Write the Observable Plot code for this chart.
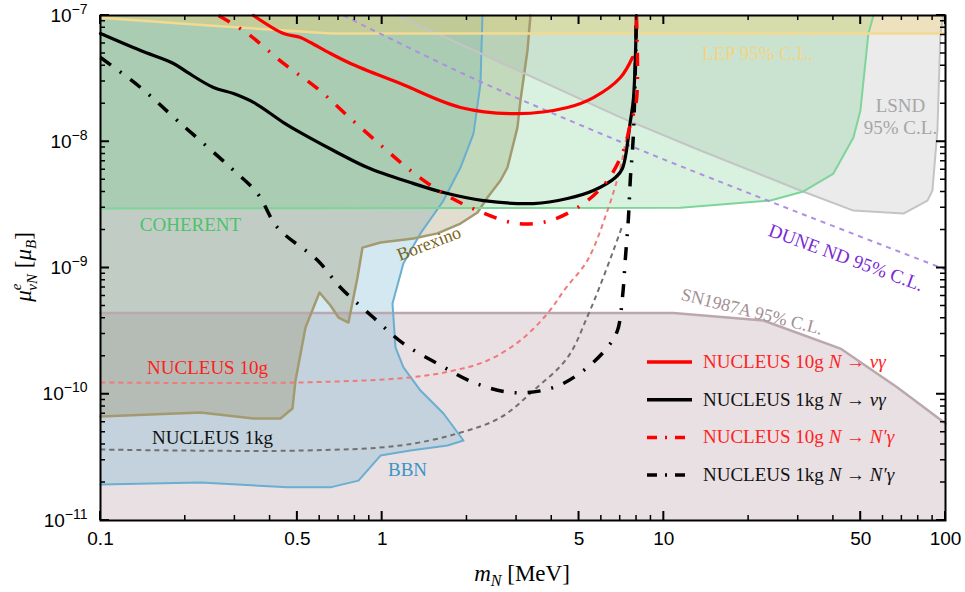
<!DOCTYPE html>
<html><head><meta charset="utf-8">
<script src="https://cdn.jsdelivr.net/npm/d3@7"></script>
<script src="https://cdn.jsdelivr.net/npm/@observablehq/plot@0.6"></script>
<style>
body{margin:0;background:#fff;}
#chart{position:relative;width:965px;height:592px;}
</style></head><body><div id="chart"></div>
<script>
// ---------- axis settings ----------
const xDomain = [0.1, 100];
const yDomain = [1e-11, 1e-7];
const xMajor = [0.1, 0.5, 1, 5, 10, 50, 100];
const xMinor = [0.2, 0.3, 0.4, 0.6, 0.7, 0.8, 0.9, 2, 3, 4, 6, 7, 8, 9, 20, 30, 40, 60, 70, 80, 90];
const yMajor = [1e-11, 1e-10, 1e-9, 1e-8, 1e-7];
const yMinor = [2e-11, 3e-11, 4e-11, 5e-11, 6e-11, 7e-11, 8e-11, 9e-11,
  2e-10, 3e-10, 4e-10, 5e-10, 6e-10, 7e-10, 8e-10, 9e-10,
  2e-9, 3e-9, 4e-9, 5e-9, 6e-9, 7e-9, 8e-9, 9e-9,
  2e-8, 3e-8, 4e-8, 5e-8, 6e-8, 7e-8, 8e-8, 9e-8];

// ---------- excluded regions: boundary [m_N (MeV), mu (mu_B)] ----------
const lepEdge = [[0.1, 9.6e-8], [0.25, 8.3e-8], [0.66, 7.2e-8], [100, 7.2e-8]];
const lepClose = [[100, 1e-7], [0.1, 1e-7]];

const lsndEdge = [[1.134, 1e-7], [7.015, 1.56e-8], [13.49, 8.52e-9], [30.54, 4.11e-9], [47.11, 2.85e-9],
  [70.9, 2.70e-9], [86.28, 3.42e-9], [89.87, 4.11e-9], [93.61, 1.23e-8], [95.92, 7.2e-8], [98.3, 1e-7]];
const lsndClose = [];

const coherentEdge = [[0.1, 2.96e-9], [11.46, 3.0e-9], [23.9, 3.42e-9], [31.3, 4.04e-9], [40.0, 5.6e-9],
  [47.11, 1.08e-8], [49.88, 1.77e-8], [53.25, 7.2e-8], [55.48, 1e-7]];
const coherentClose = [[0.1, 1e-7]];

const snEdge = [[0.1, 4.4e-10], [10.82, 4.4e-10], [22.57, 3.84e-10], [42.37, 2.3e-10], [67.51, 1.13e-10], [100, 5.87e-11]];
const snClose = [[100, 1e-11], [0.1, 1e-11]];

const bbnEdge = [[0.1, 1.93e-11], [0.2265, 2.0e-11], [0.4611, 1.83e-11], [0.6555, 1.83e-11], [0.694, 1.89e-11],
  [0.824, 2.07e-11], [0.9863, 3.27e-11], [1.26, 3.58e-11], [1.706, 3.93e-11], [1.944, 4.3e-11],
  [1.651, 7.04e-11], [1.368, 1.07e-10], [1.19, 1.63e-10], [1.115, 2.35e-10], [1.088, 5.23e-10],
  [1.19, 1.09e-9], [1.368, 1.88e-9], [1.651, 3.42e-9], [1.897, 6.25e-9], [2.11, 1.16e-8],
  [2.234, 2.89e-8], [2.27, 1e-7]];
const bbnClose = [[0.1, 1e-7]];

const borexinoEdge = [[0.1, 6.67e-11], [0.2265, 7.17e-11], [0.3493, 6.42e-11], [0.4355, 6.42e-11], [0.4803, 7.71e-11],
  [0.4922, 1.28e-10], [0.5343, 3.38e-10], [0.5989, 6.4e-10], [0.6555, 5.05e-10], [0.6998, 4.05e-10],
  [0.7593, 3.7e-10], [0.7718, 4.44e-10], [0.8172, 8.41e-10], [0.8514, 1.45e-9], [0.9863, 1.59e-9],
  [1.291, 1.71e-9], [1.572, 1.88e-9], [1.897, 2.25e-9], [2.18, 2.75e-9], [2.365, 3.62e-9],
  [2.63, 4.93e-9], [2.785, 6.25e-9], [3.022, 1.3e-8], [3.097, 2.12e-8], [3.28, 5.28e-8], [3.361, 1e-7]];
const borexinoClose = [[0.1, 1e-7]];

const duneLine = [[0.7289, 1e-7], [2.11, 3.17e-8], [7.015, 1.0e-8], [25.9, 3.13e-9], [100, 9.73e-10]];

// ---------- NUCLEUS projections ----------
const red10gDecay = [[0.3493, 1e-7], [0.4464, 7.2e-8], [0.5129, 6.7e-8], [0.5567, 6.11e-8], [0.6555, 5.0e-8],
  [0.7718, 4.17e-8], [1.161, 2.89e-8], [1.897, 1.87e-8], [3.022, 1.67e-8], [4.549, 1.87e-8],
  [5.625, 2.24e-8], [7.015, 3.23e-8], [7.736, 4.65e-8]];
const black1kgDecay = [[0.1, 7.2e-8], [0.1387, 5.28e-8], [0.1816, 4.17e-8], [0.2036, 3.54e-8], [0.2518, 2.69e-8],
  [0.2966, 2.41e-8], [0.3493, 2.05e-8], [0.4464, 1.42e-8], [0.5129, 1.18e-8], [0.6717, 8.52e-9],
  [0.8868, 6.25e-9], [1.26, 4.75e-9], [1.651, 3.96e-9], [2.289, 3.42e-9], [3.444, 3.24e-9],
  [4.549, 3.55e-9], [5.625, 4.11e-9], [6.733, 5.21e-9], [7.129, 6.14e-9], [7.611, 1.47e-8],
  [7.8, 2.2e-8], [7.993, 1e-7]];
const red10gTransition = [[0.2624, 1e-7], [0.3325, 7.2e-8], [0.4464, 4.17e-8], [0.5894, 2.64e-8], [0.7718, 1.53e-8],
  [1.0107, 9.0e-9], [1.26, 5.92e-9], [1.651, 3.89e-9], [2.18, 2.85e-9], [3.022, 2.25e-9],
  [3.958, 2.38e-9], [5.183, 3.24e-9], [6.307, 4.93e-9], [7.188, 8.52e-9], [7.611, 1.39e-8],
  [7.993, 2.12e-8], [7.993, 1e-7]];
const black1kgTransition = [[0.1, 4.65e-8], [0.1387, 2.69e-8], [0.1876, 1.47e-8], [0.2894, 6.25e-9], [0.3609, 3.89e-9],
  [0.425, 2.09e-9], [0.5894, 1.15e-9], [0.7112, 7.01e-10], [0.9313, 4.05e-10], [1.19, 2.52e-10],
  [1.572, 1.75e-10], [2.11, 1.24e-10], [2.925, 1.03e-10], [4.057, 1.13e-10], [5.183, 1.54e-10],
  [6.307, 2.35e-10], [6.845, 3.2e-10], [7.129, 5.84e-10], [7.306, 1.21e-9], [7.488, 2.51e-9],
  [7.611, 5.21e-9], [7.8, 1.16e-8], [7.993, 1e-7]];
const red10gBase = [[0.1, 1.24e-10], [0.5129, 1.24e-10], [1.26, 1.36e-10], [1.791, 1.54e-10], [2.365, 1.85e-10],
  [3.097, 2.67e-10], [3.863, 4.36e-10], [4.475, 6.88e-10], [5.355, 1.15e-9], [6.307, 2.85e-9],
  [7.015, 6.25e-9], [7.427, 1.16e-8], [7.929, 1.87e-8]];
const black1kgBase = [[0.1, 3.65e-11], [0.5129, 3.58e-11], [1.161, 3.93e-11], [1.851, 4.89e-11], [2.63, 6.54e-11],
  [3.444, 1.07e-10], [4.549, 1.95e-10], [5.355, 4.13e-10], [6.0, 7.68e-10], [6.624, 1.38e-9], [7.129, 2.17e-9]];

// ---------- region labels ----------
const regionLabels = [
  {text: "LEP 95% C.L.", x: 21.5, y: 5.09e-8, color: "#f5d47f", size: 19, rotate: 0},
  {text: "LSND\n95% C.L.", x: 69.2, y: 1.61e-8, color: "#a6a6a6", size: 19, rotate: 0},
  {text: "COHERENT", x: 0.2087, y: 2.25e-9, color: "#4cc26a", size: 19, rotate: 0},
  {text: "Borexino", x: 1.46, y: 1.59e-9, color: "#7a6420", size: 18, rotate: -21},
  {text: "DUNE ND 95% C.L.", x: 44.5, y: 1.23e-9, color: "#7b2bd4", size: 19, rotate: 20},
  {text: "SN1987A 95% C.L.", x: 20.6, y: 4.61e-10, color: "#a38f95", size: 18, rotate: 14},
  {text: "NUCLEUS 10g", x: 0.2398, y: 1.66e-10, color: "#ff2020", size: 19, rotate: 0},
  {text: "NUCLEUS 1kg", x: 0.2498, y: 4.63e-11, color: "#111111", size: 19, rotate: 0},
  {text: "BBN", x: 1.23, y: 2.58e-11, color: "#3b95c4", size: 19, rotate: 0}
];

const legendItems = [
  {name: "NUCLEUS 10g", target: "νγ", color: "#ff0000", text: "#ff2222", dash: null},
  {name: "NUCLEUS 1kg", target: "νγ", color: "#000000", text: "#111111", dash: null},
  {name: "NUCLEUS 10g", target: "N′γ", color: "#ff0000", text: "#ff2222", dash: "10,8,2,8"},
  {name: "NUCLEUS 1kg", target: "N′γ", color: "#000000", text: "#111111", dash: "10,8,2,8"}
];

// ---------- helpers ----------
const X = d => d[0], Y = d => d[1];
const poly = (edge, close, fill, op) => Plot.line(edge.concat(close), {x: X, y: Y, fill, fillOpacity: op, stroke: "none"});
const edge = (pts, stroke, w, extra = {}) => Plot.line(pts, {x: X, y: Y, stroke, strokeWidth: w, ...extra});
const smooth = {curve: "catmull-rom"};

const sans = "Liberation Sans, Arial, sans-serif";
const serif = "Liberation Serif, Times New Roman, serif";

const plot = Plot.plot({
  width: 965,
  height: 592,
  marginLeft: 100,
  marginRight: 20,
  marginTop: 15,
  marginBottom: 72,
  style: {background: "white", overflow: "visible"},
  x: {type: "log", domain: xDomain},
  y: {type: "log", domain: yDomain},
  marks: [
    // fills
    poly(snEdge, snClose, "#a3838f", 0.25),
    poly(bbnEdge, bbnClose, "#6cb2cd", 0.3),
    poly(borexinoEdge, borexinoClose, "#8a7a40", 0.25),
    poly(lsndEdge, lsndClose, "#b8b8b8", 0.28),
    poly(coherentEdge, coherentClose, "#63cb7f", 0.25),
    poly(lepEdge, lepClose, "#f2cf6b", 0.35),
    // boundaries
    edge(snEdge, "#bba8ae", 2.5),
    edge(bbnEdge, "#6aaed0", 2),
    edge(borexinoEdge, "#a39a70", 2.5),
    edge(lsndEdge, "#c4c4c4", 2),
    edge(coherentEdge, "#7fd49a", 2),
    edge(lepEdge, "#f3da92", 2.5),
    edge(duneLine, "#b08ee0", 2, {strokeDasharray: "5,5", strokeLinecap: "butt", ...smooth}),
    // labels
    Plot.text(regionLabels, {x: "x", y: "y", text: "text", fill: "color", fontSize: d => d.size, rotate: "rotate", fontFamily: serif, lineHeight: 1.2}),
    // NUCLEUS curves
    edge(red10gBase, "#f07a7a", 2, {strokeDasharray: "5,4", strokeLinecap: "butt", ...smooth}),
    edge(black1kgBase, "#707070", 2, {strokeDasharray: "5,4", strokeLinecap: "butt", ...smooth}),
    edge(black1kgTransition, "#000000", 3.5, {strokeDasharray: "13,11,2,11", strokeLinecap: "butt", ...smooth}),
    edge(red10gDecay, "#ff0000", 3.2, smooth),
    edge(black1kgDecay, "#000000", 3.2, smooth),
    edge(red10gTransition, "#ff0000", 3.5, {strokeDasharray: "13,11,2,11", strokeLinecap: "butt", ...smooth}),
    // frame & tick labels (large tick count so the log formatter keeps every label)
    Plot.frame({stroke: "black", strokeWidth: 2}),
    Plot.axisX(xMajor, {anchor: "bottom", ticks: 100, tickSize: 0, tickPadding: 11, label: null, fontSize: 19, fontFamily: sans, tickFormat: d => String(d)}),
    Plot.axisY(yMajor, {anchor: "left", ticks: 100, tickSize: 0, tickPadding: 13, label: null, fontSize: 19, fontFamily: sans, tickFormat: d => "10|" + Math.round(Math.log10(d))})
  ]
});

const svg = d3.select(plot);
const sx = plot.scale("x"), sy = plot.scale("y");
const frameLeft = 100, frameRight = 945, frameTop = 15, frameBottom = 520;

// inward ticks on all four sides, placed with Plot's own scales
const tg = svg.append("g").attr("stroke", "#000").attr("fill", "none");
const addX = (vals, len, w) => vals.forEach(v => {
  const px = sx.apply(v);
  tg.append("path").attr("d", `M${px},${frameBottom}V${frameBottom - len}M${px},${frameTop}V${frameTop + len}`).attr("stroke-width", w);
});
const addY = (vals, len, w) => vals.forEach(v => {
  const py = sy.apply(v);
  tg.append("path").attr("d", `M${frameLeft},${py}H${frameLeft + len}M${frameRight},${py}H${frameRight - len}`).attr("stroke-width", w);
});
addX(xMajor, 9, 2); addX(xMinor, 5, 1.5);
addY(yMajor, 9, 2); addY(yMinor, 5, 1.5);

// superscript exponents on y tick labels
svg.selectAll('g[aria-label="y-axis tick label"] text').each(function () {
  const parts = this.textContent.split("|");
  if (parts.length < 2) return;
  const s = d3.select(this);
  s.text(parts[0]);
  s.append("tspan").attr("dy", -8).attr("font-size", 14).text(parts[1].replace("-", "−"));
});

// axis titles
const titles = svg.append("g").attr("font-family", serif).attr("fill", "black");
const xl = titles.append("text").attr("x", 522).attr("y", 581).attr("text-anchor", "middle").attr("font-size", 23);
xl.append("tspan").attr("font-style", "italic").text("m");
xl.append("tspan").attr("font-style", "italic").attr("font-size", 16).attr("dy", 5).text("N");
xl.append("tspan").attr("dy", -5).text(" [MeV]");

const yl = titles.append("text").attr("transform", "translate(31,267) rotate(-90)").attr("text-anchor", "middle").attr("font-size", 23);
yl.append("tspan").attr("font-style", "italic").text("μ");
yl.append("tspan").attr("font-style", "italic").attr("font-size", 15).attr("dy", -10).text("e");
yl.append("tspan").attr("font-style", "italic").attr("font-size", 15).attr("dx", -7).attr("dy", 16).text("νN");
yl.append("tspan").attr("dy", -6).text(" [");
yl.append("tspan").attr("font-style", "italic").text("μ");
yl.append("tspan").attr("font-style", "italic").attr("font-size", 15).attr("dy", 5).text("B");
yl.append("tspan").attr("dy", -5).text("]");

// legend
const lg = svg.append("g").attr("font-family", serif).attr("font-size", 19).attr("text-anchor", "start");
legendItems.forEach((it, i) => {
  const yy = 362 + i * 37.7;
  lg.append("line").attr("x1", 647).attr("x2", 692).attr("y1", yy).attr("y2", yy)
    .attr("stroke", it.color).attr("stroke-width", 3.5)
    .attr("stroke-dasharray", it.dash);
  const t = lg.append("text").attr("x", 703).attr("y", yy + 6).attr("fill", it.text).attr("text-anchor", "start");
  t.append("tspan").text(it.name + " ");
  t.append("tspan").attr("font-style", "italic").text("N");
  t.append("tspan").text(" → ");
  t.append("tspan").attr("font-style", "italic").text(it.target);
});

document.getElementById("chart").appendChild(plot);
</script>
</body></html>
